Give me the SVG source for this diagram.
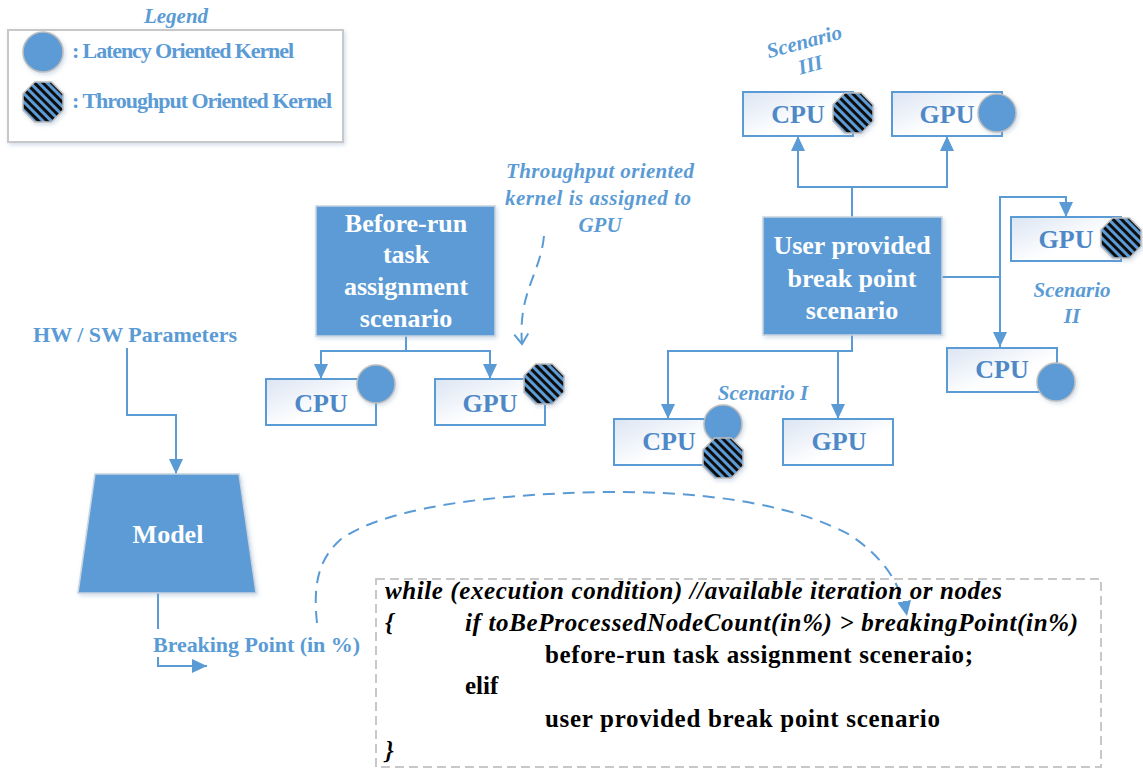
<svg xmlns="http://www.w3.org/2000/svg" xmlns:xlink="http://www.w3.org/1999/xlink" width="1143" height="770" viewBox="0 0 1143 770">
<defs>
<style>
.box{fill:url(#boxg);stroke:#5B9BD5;stroke-width:2}
.main{fill:#5B9BD5;stroke:#c9d4e0;stroke-width:1.5;filter:url(#sh)}
.wt{font-family:"Liberation Serif","Times New Roman",serif;font-weight:bold;font-size:26px;fill:#fff;text-anchor:middle}
.bl{font-family:"Liberation Serif","Times New Roman",serif;font-weight:bold;font-size:26px;fill:#4F88C6;text-anchor:middle}
.lb{font-family:"Liberation Serif","Times New Roman",serif;font-weight:bold;font-size:22px;fill:#5B9BD5}
.it{font-family:"Liberation Serif","Times New Roman",serif;font-weight:bold;font-style:italic;font-size:21px;fill:#5B9BD5;text-anchor:middle}
.code{font-family:"Liberation Serif","Times New Roman",serif;font-weight:bold;font-size:25px;fill:#000}
.ci{font-style:italic}
.kc{fill:#5B9BD5;stroke:#bdbdbd;stroke-width:1.5;filter:url(#sh)}
.ko{fill:url(#stripes);stroke:#bdbdbd;stroke-width:1.5;filter:url(#sh)}
.con{fill:none;stroke:#5B9BD5;stroke-width:2}
.dash{fill:none;stroke:#5B9BD5;stroke-width:2;stroke-dasharray:12,8}
</style>
<linearGradient id="boxg" x1="0" y1="0" x2="1" y2="1">
<stop offset="0" stop-color="#dbe5f3"/>
<stop offset="0.6" stop-color="#ffffff"/>
</linearGradient>
<pattern id="stripes" width="6" height="6" patternUnits="userSpaceOnUse" patternTransform="rotate(-45)">
<rect width="6" height="6" fill="#5B9BD5"/>
<rect width="3" height="6" fill="#111"/>
</pattern>
<filter id="sh" x="-20%" y="-20%" width="140%" height="140%">
<feDropShadow dx="1.5" dy="2" stdDeviation="2" flood-color="#7f9cc0" flood-opacity="0.35"/>
</filter>
<polygon id="oct" points="8.3,-20 20,-8.3 20,8.3 8.3,20 -8.3,20 -20,8.3 -20,-8.3 -8.3,-20"/>
<marker id="ah" markerUnits="userSpaceOnUse" markerWidth="15" markerHeight="14" refX="15" refY="7" orient="auto">
<path d="M0,0 L15,7 L0,14 z" fill="#5B9BD5"/>
</marker>
<marker id="ov" markerUnits="userSpaceOnUse" markerWidth="14" markerHeight="16" refX="12" refY="8" orient="auto">
<path d="M2,1 L12,8 L2,15" fill="none" stroke="#5B9BD5" stroke-width="2"/>
</marker>
</defs>
<rect width="1143" height="770" fill="#fff"/>

<g id="legend">
<text class="it" x="176" y="23" font-size="19">Legend</text>
<rect x="8" y="30" width="335" height="112" fill="#fff" stroke="#c8c8c8" stroke-width="2" filter="url(#sh)"/>
<circle class="kc" cx="43" cy="52" r="20"/>
<text class="lb" x="72" y="58" font-size="18.5" textLength="222">: Latency Oriented Kernel</text>
<use href="#oct" x="43" y="102" class="ko"/>
<text class="lb" x="72" y="108" font-size="18.5" textLength="260">: Throughput Oriented Kernel</text>
</g>

<g id="connectors">
<path class="con" d="M406,336 V351 H321 V379" marker-end="url(#ah)"/>
<path class="con" d="M406,351 H490 V379" marker-end="url(#ah)"/>
<path class="con" d="M852,217 V187 H798 V136" marker-end="url(#ah)"/>
<path class="con" d="M852,187 H947 V136" marker-end="url(#ah)"/>
<path class="con" d="M942,277 H1000 V197 H1066 V217" marker-end="url(#ah)"/>
<path class="con" d="M1000,277 V347" marker-end="url(#ah)"/>
<path class="con" d="M852,335 V351 H668 V419" marker-end="url(#ah)"/>
<path class="con" d="M838,351 V419" marker-end="url(#ah)"/>
<path class="con" d="M127,348 V415 H176 V474" marker-end="url(#ah)"/>
<path class="con" d="M158,593 V629"/>
<path class="con" d="M158,657 V666 H207" marker-end="url(#ah)"/>
<path class="dash" d="M544,236 C540,275 518,292 522,344" stroke-dasharray="10,7" marker-end="url(#ov)"/>
<path class="dash" d="M317,623 C313,585 318,560 340,540 C380,510 480,494 606,492 C720,491 800,508 850,535 C880,555 900,580 907,616" marker-end="url(#ah)"/>
</g>

<g id="scenario3-label">
<g transform="rotate(-15 808 56)">
<text class="it" x="808" y="48">Scenario</text>
<text class="it" x="808" y="72">III</text>
</g>
</g>

<g id="cpu-s3">
<rect class="box" x="743" y="92" width="110" height="44"/>
<text class="bl" x="798" y="123">CPU</text>
<use href="#oct" x="853" y="113" class="ko"/>
</g>
<g id="gpu-s3">
<rect class="box" x="892" y="92" width="110" height="44"/>
<text class="bl" x="947" y="123">GPU</text>
<circle class="kc" cx="997" cy="113" r="19"/>
</g>

<g id="note">
<text class="it" x="600" y="178" textLength="188">Throughput oriented</text>
<text class="it" x="598" y="205" textLength="186">kernel is assigned to</text>
<text class="it" x="600" y="232">GPU</text>
</g>

<g id="before-run">
<rect class="main" x="316" y="206" width="179" height="130"/>
<text class="wt" x="406" y="232">Before-run</text>
<text class="wt" x="406" y="263">task</text>
<text class="wt" x="406" y="295">assignment</text>
<text class="wt" x="406" y="327">scenario</text>
</g>
<g id="cpu-br">
<rect class="box" x="266" y="379" width="110" height="46"/>
<text class="bl" x="321" y="412">CPU</text>
<circle class="kc" cx="376" cy="384" r="19"/>
</g>
<g id="gpu-br">
<rect class="box" x="435" y="379" width="110" height="46"/>
<text class="bl" x="490" y="412">GPU</text>
<use href="#oct" x="544" y="384" class="ko"/>
</g>

<g id="user">
<rect class="main" x="763" y="217" width="179" height="118"/>
<text class="wt" x="852" y="254">User provided</text>
<text class="wt" x="852" y="287">break point</text>
<text class="wt" x="852" y="319">scenario</text>
</g>

<g id="gpu-s2">
<rect class="box" x="1011" y="217" width="110" height="44"/>
<text class="bl" x="1066" y="248">GPU</text>
<use href="#oct" x="1121" y="238" class="ko"/>
</g>
<g id="scenario2-label">
<text class="it" x="1072" y="297">Scenario</text>
<text class="it" x="1072" y="323">II</text>
</g>
<g id="cpu-s2">
<rect class="box" x="947" y="348" width="110" height="44"/>
<text class="bl" x="1002" y="378">CPU</text>
<circle class="kc" cx="1056" cy="382" r="19"/>
</g>

<g id="scenario1-label">
<text class="it" x="763" y="400">Scenario I</text>
</g>
<g id="cpu-s1">
<rect class="box" x="614" y="419" width="108" height="46"/>
<text class="bl" x="669" y="450">CPU</text>
<circle class="kc" cx="723" cy="424" r="19"/>
<use href="#oct" x="723" y="458" class="ko"/>
</g>
<g id="gpu-s1">
<rect class="box" x="783" y="419" width="110" height="46"/>
<text class="bl" x="839" y="450">GPU</text>
</g>

<g id="hw">
<text class="lb" x="33" y="342" textLength="204">HW / SW Parameters</text>
</g>
<g id="model">
<polygon class="main" points="95,474 239,474 256,593 78,593"/>
<text class="wt" x="168" y="543">Model</text>
</g>
<g id="breaking">
<text class="lb" x="153" y="652" textLength="207">Breaking Point (in %)</text>
</g>

<g id="code">
<rect x="376" y="579" width="725" height="188" fill="none" stroke="#c8c8c8" stroke-width="2" stroke-dasharray="9,5"/>
<text class="code ci" x="385" y="599" textLength="617">while (execution condition) //available iteration or nodes</text>
<text class="code ci" x="385" y="631">{</text>
<text class="code ci" x="465" y="631" textLength="613">if toBeProcessedNodeCount(in%) &gt; breakingPoint(in%)</text>
<text class="code" x="545" y="663" textLength="428">before-run task assignment sceneraio;</text>
<text class="code" x="465" y="694">elif</text>
<text class="code" x="545" y="727" textLength="395">user provided break point scenario</text>
<text class="code ci" x="385" y="759">}</text>
</g>
</svg>
